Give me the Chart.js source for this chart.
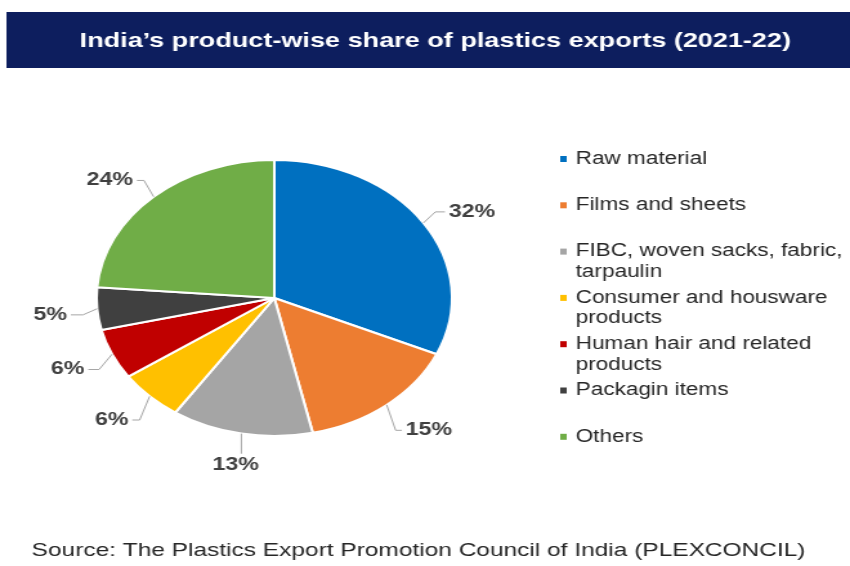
<!DOCTYPE html>
<html>
<head>
<meta charset="utf-8">
<script src="https://cdn.jsdelivr.net/npm/chart.js@4/dist/chart.umd.min.js"></script>
<style>
  body { margin: 0; background: #fff; }
  /* the reference is a horizontally stretched picture, so the canvas is drawn narrow and stretched */
  #chart { width: 850px; height: 566px; }
</style>
</head>
<body>
<canvas id="chart" width="660" height="566" style="width:850px;height:566px"></canvas>
<script>
const TITLE = 'India\u2019s product-wise share of plastics exports (2021-22)';
const SOURCE = 'Source: The Plastics Export Promotion Council of India (PLEXCONCIL)';

const categories = [
    'Raw material',
    'Films and sheets',
    'FIBC, woven sacks, fabric, tarpaulin',
    'Consumer and housware products',
    'Human hair and related products',
    'Packagin items',
    'Others'
];
const shares = [32, 15, 13, 6, 6, 5, 24];

const sliceColors = ['#0070C0', '#ED7D31', '#A5A5A5', '#FFC000', '#C00000', '#404040', '#70AD47'];

const FONT = '"Liberation Sans", Arial, sans-serif';

/**
 * Split a legend label into lines that fit maxWidth
 */
function wrapText(ctx, text, maxWidth) {
    const words = text.split(' ');
    const lines = [];
    let line = '';
    for (const w of words) {
        const test = line ? line + ' ' + w : w;
        if (line && ctx.measureText(test).width > maxWidth) {
            lines.push(line);
            line = w;
        } else {
            line = test;
        }
    }
    if (line) lines.push(line);
    return lines;
}

/**
 * Banner title, source line and background
 */
const frame = {
    id: 'frame',
    beforeDraw(chart) {
        const ctx = chart.ctx;
        ctx.save();
        ctx.fillStyle = '#fff';
        ctx.fillRect(0, 0, chart.width, chart.height);
        ctx.fillStyle = '#0D1E5E';
        ctx.fillRect(5, 12, chart.width - 5, 56);
        ctx.fillStyle = '#fff';
        ctx.font = 'bold 21px ' + FONT;
        ctx.textAlign = 'center';
        ctx.textBaseline = 'middle';
        ctx.fillText(TITLE, 338, 41);
        ctx.fillStyle = '#262626';
        ctx.font = '19px ' + FONT;
        ctx.fillText(SOURCE, 325, 551);
        ctx.restore();
    }
};

/**
 * Percent labels with leader lines
 */
const sliceLabels = {
    id: 'sliceLabels',
    afterDatasetsDraw(chart) {
        const ctx = chart.ctx;
        const meta = chart.getDatasetMeta(0);
        ctx.save();
        ctx.font = 'bold 18px ' + FONT;
        ctx.textBaseline = 'middle';
        meta.data.forEach((arc, i) => {
            const { x, y, outerRadius, startAngle, endAngle } = arc.getProps(['x', 'y', 'outerRadius', 'startAngle', 'endAngle'], true);
            const mid = (startAngle + endAngle) / 2;
            const cos = Math.cos(mid), sin = Math.sin(mid);
            const sx = x + outerRadius * cos, sy = y + outerRadius * sin;
            const ax = x + outerRadius * 1.17 * cos;
            const ay = y + outerRadius * 1.2 * sin + 4;
            const text = chart.data.datasets[0].data[i] + '%';
            ctx.strokeStyle = '#A6A6A6';
            ctx.lineWidth = 1;
            ctx.beginPath();
            ctx.moveTo(sx, sy);
            if (Math.abs(cos) < 0.35) {
                ctx.lineTo(sx, ay - 11);
                ctx.stroke();
                ctx.textAlign = 'center';
                ctx.fillStyle = '#404040';
                ctx.fillText(text, ax, ay);
            } else {
                const bx = x + outerRadius * 1.08 * cos;
                const dir = cos > 0 ? 1 : -1;
                ctx.lineTo(bx, ay);
                ctx.lineTo(ax - dir * 3, ay);
                ctx.stroke();
                ctx.textAlign = cos > 0 ? 'left' : 'right';
                ctx.fillStyle = '#404040';
                ctx.fillText(text, ax, ay);
            }
        });
        ctx.restore();
    }
};

/**
 * Legend on the right, wrapped labels
 */
const sideLegend = {
    id: 'sideLegend',
    afterDraw(chart) {
        const ctx = chart.ctx;
        const labels = chart.data.labels;
        const colors = chart.data.datasets[0].backgroundColor;
        ctx.save();
        ctx.font = '17.5px ' + FONT;
        ctx.textBaseline = 'middle';
        ctx.textAlign = 'left';
        labels.forEach((label, i) => {
            const top = 159 + i * 46.3;
            ctx.fillStyle = colors[i];
            ctx.fillRect(435, top - 3, 5, 6);
            ctx.fillStyle = '#262626';
            wrapText(ctx, label, 218).forEach((line, j) => {
                ctx.fillText(line, 447, top + j * 20.5);
            });
        });
        ctx.restore();
    }
};

new Chart(document.getElementById('chart').getContext('2d'), {
    type: 'pie',
    data: {
        labels: categories,
        datasets: [{
            data: shares,
            backgroundColor: sliceColors,
            borderColor: '#fff',
            borderWidth: 2,
            hoverOffset: 0,
        }],
    },
    options: {
        responsive: false,
        animation: false,
        layout: { padding: { left: 74, right: 308, top: 159, bottom: 129 } },
        plugins: {
            legend: { display: false },
            tooltip: { enabled: false },
        },
    },
    plugins: [frame, sliceLabels, sideLegend],
});
</script>
</body>
</html>
